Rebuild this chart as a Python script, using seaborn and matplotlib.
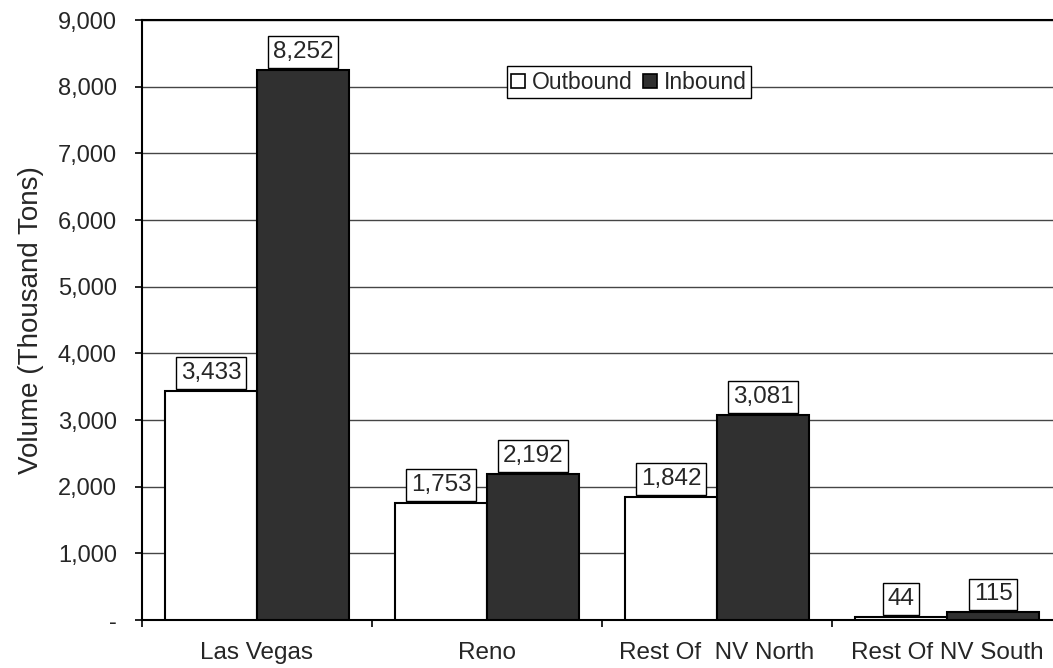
import matplotlib
matplotlib.use("Agg")
import matplotlib.pyplot as plt
from matplotlib.patches import Patch
from matplotlib.ticker import FuncFormatter, FixedLocator
import seaborn as sns
import pandas as pd

categories = ["Las Vegas", "Reno", "Rest Of  NV North", "Rest Of NV South"]
outbound = [3433, 1753, 1842, 44]
inbound = [8252, 2192, 3081, 115]
series_names = ["Outbound", "Inbound"]
y_ticks = [0, 1000, 2000, 3000, 4000, 5000, 6000, 7000, 8000, 9000]

df = pd.DataFrame({
    "Region": categories * 2,
    "Series": [series_names[0]] * len(categories) + [series_names[1]] * len(categories),
    "Volume": outbound + inbound,
})

sns.set_style("white")
plt.rcParams["font.family"] = ["Liberation Sans", "DejaVu Sans"]

colors = {"Outbound": "#ffffff", "Inbound": "#303030"}

fig = plt.figure(figsize=(10.53, 6.68), dpi=100)
ax = fig.add_axes([142 / 1053, 1 - 620 / 668, 920 / 1053, 600 / 668])

sns.barplot(data=df, x="Region", y="Volume", hue="Series", order=categories,
            hue_order=series_names, palette=colors, edgecolor="black",
            linewidth=1.5, width=0.8, ax=ax, legend=False, zorder=3)

ax.set_xlim(-0.5, 3.5)
ax.set_ylim(0, 9000)

# gridlines
ax.yaxis.set_major_locator(FixedLocator(y_ticks))
ax.grid(axis="y", color="#454545", linewidth=1.0, zorder=0)
ax.grid(axis="x", visible=False)
ax.set_axisbelow(True)

ax.yaxis.set_major_formatter(FuncFormatter(lambda v, p: "-" if v == 0 else f"{int(v):,}"))
ax.tick_params(axis="y", which="major", left=True, length=5, width=1.2, color="black",
               pad=13, labelsize=17)

# x ticks: labels at centers, tick marks at boundaries
ax.set_xticks(range(len(categories)))
ax.set_xticklabels(categories)
ax.set_xticks([-0.5, 0.5, 1.5, 2.5, 3.5], minor=True)
ax.tick_params(axis="x", which="major", length=0, pad=16, labelsize=17.5)
ax.tick_params(axis="x", which="minor", bottom=True, length=5, width=1.2, color="black")

ax.set_xlabel("")
ax.set_ylabel("Volume (Thousand Tons)", fontsize=20, labelpad=10)

for side in ["left", "bottom", "top", "right"]:
    ax.spines[side].set_visible(True)
    ax.spines[side].set_color("black")
    ax.spines[side].set_linewidth(1.5)

# data labels
for cont in ax.containers:
    ax.bar_label(cont, labels=[f"{int(v):,}" for v in cont.datavalues], padding=5,
                 fontsize=17.5,
                 bbox=dict(boxstyle="square,pad=0.2", facecolor="white",
                           edgecolor="black", linewidth=1.0), zorder=5)

handles = [Patch(facecolor=colors[s], edgecolor="black", linewidth=1.2, label=s)
           for s in series_names]
leg = ax.legend(handles=handles, loc="center", bbox_to_anchor=(0.529, 0.896), ncol=2,
                fontsize=16.5, frameon=True, fancybox=False, framealpha=1,
                edgecolor="black", handlelength=0.6, handleheight=0.6,
                handletextpad=0.3, columnspacing=0.45, borderpad=0.2)
leg.get_frame().set_linewidth(1.0)
leg.set_zorder(6)

fig.savefig("out.png", dpi=100)
